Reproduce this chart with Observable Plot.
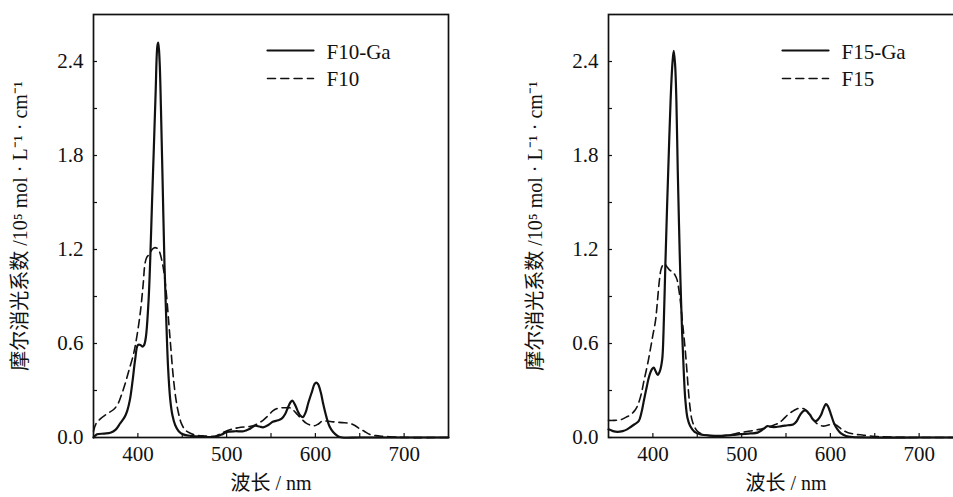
<!DOCTYPE html>
<html>
<head>
<meta charset="utf-8">
<script src="https://cdn.jsdelivr.net/npm/d3@7"></script>
<script src="https://cdn.jsdelivr.net/npm/@observablehq/plot@0.6"></script>
<style>
html, body { margin: 0; padding: 0; background: #fff; overflow: hidden; width: 953px; height: 497px; }
#c { position: relative; width: 953px; height: 497px; overflow: hidden; }
.panel { position: absolute; top: 0; }
#c svg, #c svg text { font-family: "Liberation Serif", "Noto Sans CJK SC", serif !important; }
</style>
</head>
<body>
<div id="c"></div>
<script>
// ---------- data (wavelength nm, extinction coefficient 10^5 mol^-1 L cm^-1) ----------
const f10gaWl = [350,354,362,369,375,380,385,388,391,394,397,400,403,405,407,409,412,414,416,418,420,422,423,424.5,426,428,430,432,434,436.5,439,442,446,451,460,470,487,495,500,510,519,526,532,537,541,547,552,558,562,566,569,572,574,577,580,583,586,589,592,596,599,601,603,606,609,612.5,616,620,625,630,650,700,750];
const f10gaA  = [0.0,0.02,0.025,0.03,0.05,0.09,0.13,0.17,0.24,0.36,0.50,0.59,0.59,0.58,0.59,0.64,0.87,1.15,1.51,1.85,2.20,2.50,2.52,2.40,2.10,1.60,1.10,0.75,0.45,0.24,0.14,0.08,0.04,0.02,0.01,0.005,0.005,0.02,0.035,0.04,0.04,0.055,0.075,0.07,0.065,0.08,0.10,0.11,0.12,0.15,0.19,0.225,0.235,0.21,0.17,0.14,0.13,0.16,0.22,0.29,0.34,0.35,0.34,0.29,0.21,0.13,0.07,0.035,0.01,0.0,0,0,0];

const f10Wl = [350,353,358,365,373,378,382,386,390,395,399,403,406,408,410,413,416,418,421,424,427,429,431,433,435,437,440,443,446,449,453,458,465,475,488,495,507,516,526,534,541,547,552,557,562,567,571,575,580,585,590,595,599,603,608,613,620,630,639,645,650,655,661,668,675,690,700,750];
const f10A  = [0.04,0.09,0.12,0.15,0.18,0.22,0.28,0.35,0.43,0.53,0.65,0.81,0.98,1.11,1.15,1.17,1.20,1.21,1.21,1.19,1.13,1.07,0.98,0.86,0.72,0.58,0.38,0.24,0.15,0.09,0.05,0.03,0.015,0.01,0.01,0.03,0.055,0.065,0.07,0.085,0.11,0.14,0.17,0.185,0.19,0.19,0.19,0.175,0.145,0.115,0.09,0.078,0.075,0.085,0.105,0.105,0.10,0.095,0.09,0.075,0.055,0.04,0.02,0.012,0.008,0.003,0,0];

const f15gaWl = [350,355,360,366,371,375,379,384,387,390,393,396,399,401,403,405.5,408,410.5,412,414,416,418,420,422,423.5,425,426.5,428,429.5,431,433,435,436.6,439,442,447,453,465,476,490,498,510,518,524,529,534,539,545,552,558,562,566,570,573,577,580,583,586,589.6,592,595,597,600.8,604,608,612,617.6,625,640,700,750];
const f15gaA  = [0.052,0.041,0.036,0.041,0.052,0.067,0.083,0.104,0.156,0.239,0.321,0.394,0.436,0.446,0.425,0.399,0.425,0.498,0.674,1.089,1.473,1.825,2.157,2.385,2.468,2.385,2.147,1.711,1.348,1.016,0.664,0.394,0.239,0.124,0.073,0.036,0.021,0.012,0.01,0.016,0.021,0.026,0.031,0.052,0.073,0.067,0.067,0.073,0.078,0.083,0.104,0.145,0.171,0.171,0.145,0.119,0.104,0.114,0.145,0.181,0.213,0.202,0.145,0.093,0.052,0.026,0.01,0.003,0,0,0];

const f15Wl = [350,356,364,370,375,380,383,387,390,394,397.4,400,403,405,407,409,411,413,416,419,422,425,427.3,429,431,433,435,436.6,438.5,440,442,444,447,450,456,468,480,490,498,510,520,528,536,542,546.5,552,557,561.6,566,571,575,580.3,585,591.5,597,602.7,607,613.9,620,630,636,645,655,670,700,750];
const f15A  = [0.109,0.109,0.114,0.130,0.145,0.176,0.207,0.280,0.363,0.467,0.570,0.653,0.747,0.861,0.985,1.068,1.099,1.110,1.089,1.068,1.058,1.037,1.006,0.954,0.871,0.757,0.643,0.550,0.415,0.301,0.187,0.114,0.067,0.041,0.021,0.01,0.012,0.021,0.031,0.041,0.052,0.062,0.078,0.093,0.114,0.145,0.166,0.181,0.187,0.181,0.156,0.114,0.088,0.073,0.078,0.088,0.078,0.047,0.031,0.019,0.016,0.01,0.005,0.002,0,0];

const xTickLabels = [400, 500, 600, 700];
const xMinorTicks = [400, 450, 500, 550, 600, 650, 700];
const yTickLabels = [0, 0.6, 1.2, 1.8, 2.4];
const yMinorTicks = [0, 0.3, 0.6, 0.9, 1.2, 1.5, 1.8, 2.1, 2.4];
const leftNames = ["F10-Ga", "F10"];
const rightNames = ["F15-Ga", "F15"];
const yLabel = "摩尔消光系数 /10⁵ mol · L⁻¹ · cm⁻¹";
const xLabel = "波长 / nm";

// ---------- drawing ----------
const FONT = "Liberation Serif, Noto Sans CJK SC, serif";
const FS = 21;
const rows = (wl, a) => wl.map((w, i) => ({w, a: a[i]}));
const hShape = {draw(ctx, l) { ctx.moveTo(0, 0); ctx.lineTo(l, 0); }};

function panel(solidWl, solidA, dashWl, dashA, names) {
  return Plot.plot({
    width: 93 + 355 + 12,
    height: 497,
    marginLeft: 93,
    marginRight: 12,
    marginTop: 14,
    marginBottom: 60,
    x: {domain: [350, 750]},
    y: {domain: [0, 2.7]},
    style: {fontFamily: FONT, fontSize: FS + "px", color: "#111", background: "transparent", overflow: "visible"},
    marks: [
      Plot.line(rows(dashWl, dashA), {x: "w", y: "a", curve: "catmull-rom", stroke: "#111", strokeWidth: 1.6, strokeDasharray: "8,5"}),
      Plot.line(rows(solidWl, solidA), {x: "w", y: "a", curve: "catmull-rom", stroke: "#111", strokeWidth: 2.2}),
      Plot.axisX({ticks: xMinorTicks, anchor: "bottom", tickSize: -4, text: null, label: null, strokeWidth: 1.2}),
      Plot.axisY({ticks: yMinorTicks, anchor: "left", tickSize: -4, text: null, label: null, strokeWidth: 1.2}),
      Plot.axisX({ticks: xTickLabels, anchor: "bottom", tickSize: 0, tickPadding: 9, label: null, fontSize: FS, fontFamily: FONT, tickFormat: d => String(d)}),
      Plot.axisY({ticks: yTickLabels, anchor: "left", tickSize: 0, tickPadding: 10, label: null, fontSize: FS, fontFamily: FONT, tickFormat: d => d.toFixed(1)}),
      Plot.frame({stroke: "#111", strokeWidth: 1.7}),
      // legend
      Plot.vector([names[0]], {frameAnchor: "top-left", dx: 174, dy: 36, length: 46, rotate: 0, anchor: "start", shape: hShape, stroke: "#111", strokeWidth: 2.2}),
      Plot.vector([names[1]], {frameAnchor: "top-left", dx: 174, dy: 64, length: 46, rotate: 0, anchor: "start", shape: hShape, stroke: "#111", strokeWidth: 1.6, strokeDasharray: "8,5.3"}),
      Plot.text([names[0]], {frameAnchor: "top-left", dx: 233, dy: 38, text: d => d, textAnchor: "start", lineAnchor: "middle", fontSize: FS, fontFamily: FONT}),
      Plot.text([names[1]], {frameAnchor: "top-left", dx: 233, dy: 65, text: d => d, textAnchor: "start", lineAnchor: "middle", fontSize: FS, fontFamily: FONT}),
      // axis titles
      Plot.text([yLabel], {frameAnchor: "left", dx: -73, rotate: -90, text: d => d, textAnchor: "middle", lineAnchor: "middle", fontSize: 20, fontFamily: FONT}),
      Plot.text([xLabel], {frameAnchor: "bottom", dy: 46, text: d => d, textAnchor: "middle", lineAnchor: "middle", fontSize: 20, fontFamily: FONT})
    ]
  });
}

const c = document.getElementById("c");
const p1 = panel(f10gaWl, f10gaA, f10Wl, f10A, leftNames);
p1.classList.add("panel"); p1.style.left = "0px";
const p2 = panel(f15gaWl, f15gaA, f15Wl, f15A, rightNames);
p2.classList.add("panel"); p2.style.left = "515px";
c.appendChild(p1);
c.appendChild(p2);
</script>
</body>
</html>
